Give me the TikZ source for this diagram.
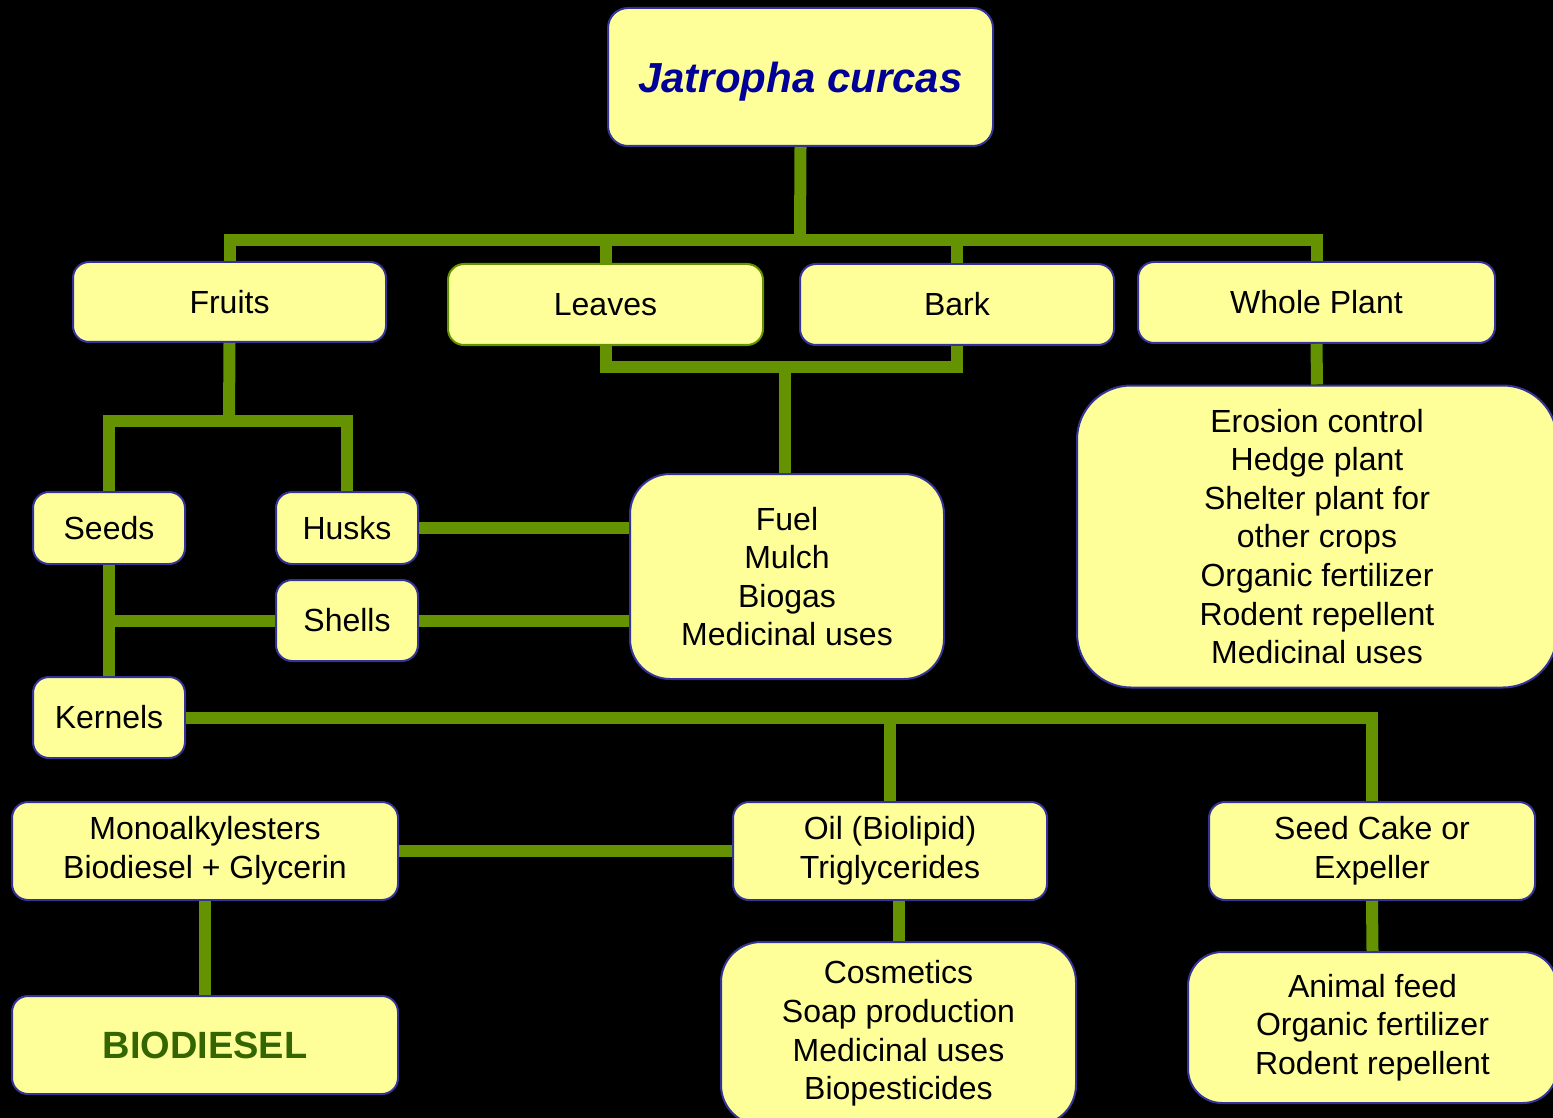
\documentclass[tikz,border=0pt]{standalone}
\usepackage{fontspec}
\setmainfont{Liberation Sans}
\usepackage{tikz}
\definecolor{boxfill}{RGB}{255,255,153}
\definecolor{boxline}{RGB}{51,51,153}
\definecolor{linkgreen}{RGB}{100,146,0}
\definecolor{titleblue}{RGB}{0,0,153}
\definecolor{dieselgreen}{RGB}{51,102,0}
\tikzset{box/.style={draw=boxline,fill=boxfill,line width=1pt,rounded corners=8pt,align=center,inner sep=0pt,font=\fontsize{16}{19.3}\selectfont}}
\tikzset{bigbox/.style={box,rounded corners=20pt}}
\tikzset{link/.style={draw=linkgreen,line width=6pt}}

\begin{document}
\begin{tikzpicture}
[x=0.5pt, y=-0.5pt]
\useasboundingbox (0,0) rectangle (1553,1118);
\fill[black] (0,0) rectangle (1553,1118);

\node (jatropha) at (800.5,77)[box, rounded corners=10pt, minimum width=192.5pt, minimum height=69pt, text depth=0pt, font=\fontsize{21}{25}\selectfont\bfseries\itshape, text=titleblue]{Jatropha curcas};

\node (fruits) at (229.5,302)[box, minimum width=156.5pt, minimum height=40pt]{Fruits};
\node (leaves) at (605.5,304.5)[box, draw=linkgreen, minimum width=157.5pt, minimum height=40.5pt]{Leaves};
\node (bark) at (957,304.5)[box, minimum width=157pt, minimum height=40.5pt]{Bark};
\node (wholeplant) at (1316.5,302.5)[box, minimum width=178.5pt, minimum height=40.5pt]{Whole Plant};

\node (seeds) at (109,528)[box, minimum width=76pt, minimum height=36pt]{Seeds};
\node (husks) at (347,528)[box, minimum width=71pt, minimum height=36pt]{Husks};
\node (shells) at (347,620.5)[box, minimum width=71pt, minimum height=40.5pt]{Shells};
\node (kernels) at (109,717.5)[box, minimum width=76pt, minimum height=40.5pt]{Kernels};

\node (fuel) at (787,576.5)[bigbox, minimum width=157pt, minimum height=102.5pt]{Fuel\\Mulch\\Biogas\\Medicinal uses};
\node (erosion) at (1317,536.5)[bigbox, rounded corners=27pt, minimum width=240pt, minimum height=151pt]{Erosion control\\Hedge plant\\Shelter plant for\\other crops\\Organic fertilizer\\Rodent repellent\\Medicinal uses};

\node (mono) at (205,851)[box, minimum width=193pt, minimum height=49pt]{Monoalkylesters\\Biodiesel + Glycerin};
\node (oil) at (890,851)[box, minimum width=157pt, minimum height=49pt]{Oil (Biolipid)\\Triglycerides};
\node (cake) at (1372,851)[box, minimum width=163pt, minimum height=49pt]{Seed Cake or\\Expeller};

\node (biodiesel) at (205,1045)[box, minimum width=193pt, minimum height=49pt, font=\fontsize{19}{23}\selectfont\bfseries, text=dieselgreen]{BIODIESEL};
\node (cosmetics) at (898.5,1033.5)[bigbox, minimum width=177.5pt, minimum height=91.5pt]{Cosmetics\\Soap production\\Medicinal uses\\Biopesticides};
\node (animal) at (1372.5,1027.5)[bigbox, rounded corners=17pt, minimum width=184.5pt, minimum height=75.5pt]{Animal feed\\Organic fertilizer\\Rodent repellent};

\coordinate (topbar) at (800,240);
\coordinate (fruitsbar) at (229,421);
\coordinate (lbbar) at (785,367);

\draw[link] (jatropha.south) -- (topbar);
\draw[link] (fruits.north) |- (topbar) -| (wholeplant.north);
\draw[link] (leaves.north) -- (leaves.north |- topbar);
\draw[link] (bark.north) -- (bark.north |- topbar);

\draw[link] (fruits.south) -- (fruitsbar);
\draw[link] (seeds.north) |- (fruitsbar) -| (husks.north);

\draw[link] (leaves.south) |- (lbbar) -| (bark.south);
\draw[link] (lbbar) -- (lbbar |- fuel.north);
\draw[link] (wholeplant.south) -- (erosion.north);

\draw[link] (husks.east) -- (fuel.west |- husks.east);
\draw[link] (shells.east) -- (fuel.west |- shells.east);
\draw[link] (seeds.south) -- (kernels.north);
\draw[link] (seeds.south |- shells.west) -- (shells.west);

\draw[link] (kernels.east) -| (cake.north);
\draw[link] (oil.north |- kernels.east) -- (oil.north);
\draw[link] (mono.east) -- (oil.west);
\draw[link] (mono.south) -- (biodiesel.north);
\draw[link] (oil.south -| cosmetics.north) -- (cosmetics.north);
\draw[link] (cake.south) -- (animal.north);
\end{tikzpicture}
\end{document}
